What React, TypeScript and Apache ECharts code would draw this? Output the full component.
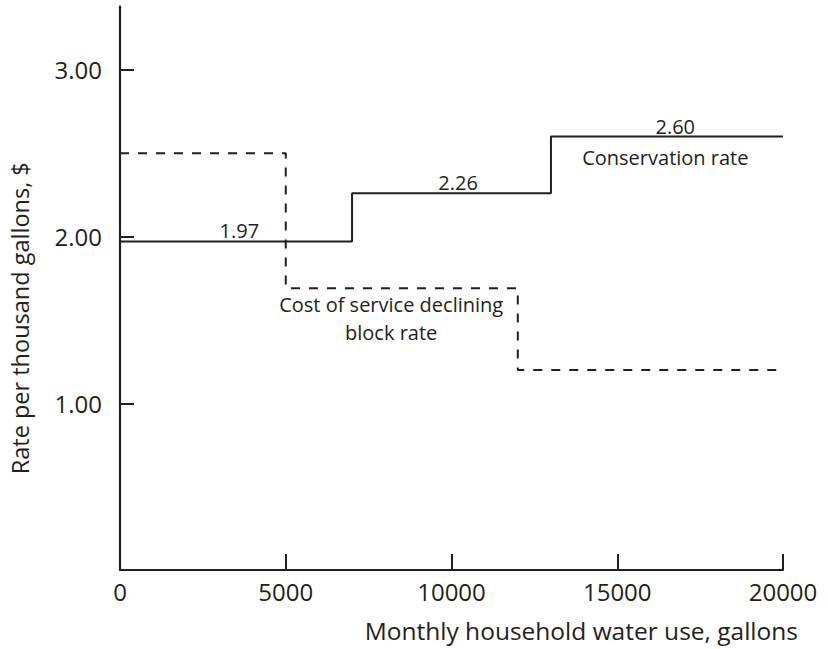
import React, { useEffect, useRef } from "react";
import * as echarts from "echarts";

// Conservation (increasing block) rate
const conservationBreaks = [0, 7000, 13000, 20000];
const conservationRates = [1.97, 2.26, 2.6];

// Cost of service declining block rate
const decliningBreaks = [0, 5000, 12000, 20000];
const decliningRates = [2.5, 1.69, 1.2];

const xTicks = [0, 5000, 10000, 15000, 20000];
const yTicks = [1, 2, 3];

// annotations (data coordinates)
const annotationTexts = ["1.97", "2.26", "2.60", "Conservation rate", "Cost of service declining\nblock rate"];
const annotationX = [3600, 10200, 16750, 16450, 8180];
const annotationY = [2.037, 2.325, 2.66, 2.475, 1.51];

const INK = "#231f20";
const FONT = "Open Sans";

function stepData(breaks: number[], rates: number[]) {
  const d: number[][] = [];
  for (let i = 0; i < rates.length; i++) d.push([breaks[i], rates[i]]);
  d.push([breaks[breaks.length - 1], rates[rates.length - 1]]);
  return d;
}

export default function App() {
  const ref = useRef<HTMLDivElement>(null);
  useEffect(() => {
    if (!ref.current) return;
    const chart = echarts.init(ref.current, null, { renderer: "svg" });
    chart.setOption({
      animation: false,
      backgroundColor: "#ffffff",
      grid: { left: 118, top: 6.5, width: 665, height: 563.5, containLabel: false },
      xAxis: {
        type: "value",
        min: 0,
        max: 20000,
        interval: 5000,
        splitLine: { show: false },
        axisLine: { show: true, onZero: false, lineStyle: { color: INK, width: 2.2 } },
        axisTick: { show: true, inside: true, length: 16, lineStyle: { color: INK, width: 2 }, customValues: [5000, 10000, 15000, 20000] },
        axisLabel: { color: INK, fontFamily: FONT, fontSize: 24, margin: 9, customValues: xTicks, formatter: (v: number) => String(v) },
        name: "Monthly household water use, gallons",
        nameLocation: "end",
        nameGap: 15,
        nameTextStyle: { color: INK, fontFamily: FONT, fontSize: 24.5, align: "right", verticalAlign: "top", padding: [48, 0, 0, 0] },
      },
      yAxis: {
        type: "value",
        min: 0,
        max: 3.38,
        interval: 1,
        splitLine: { show: false },
        axisLine: { show: true, onZero: false, lineStyle: { color: INK, width: 2.2 } },
        axisTick: { show: true, inside: true, length: 14, lineStyle: { color: INK, width: 2 }, customValues: yTicks },
        axisLabel: { color: INK, fontFamily: FONT, fontSize: 24, margin: 18, customValues: yTicks, formatter: (v: number) => v.toFixed(2) },
        name: "Rate per thousand gallons, $",
        nameLocation: "middle",
        nameGap: 88,
        nameRotate: 90,
        nameTextStyle: { color: INK, fontFamily: FONT, fontSize: 23.5, padding: [0, 60, 0, 0] },
      },
      series: [
        {
          name: "Conservation rate",
          type: "line",
          step: "end",
          data: stepData(conservationBreaks, conservationRates),
          showSymbol: false,
          lineStyle: { color: INK, width: 2 },
        },
        {
          name: "Cost of service declining block rate",
          type: "line",
          step: "end",
          data: stepData(decliningBreaks, decliningRates),
          showSymbol: false,
          lineStyle: { color: INK, width: 2, type: [9, 9] },
        },
        {
          type: "scatter",
          symbolSize: 0,
          silent: true,
          itemStyle: { opacity: 1, color: INK },
          data: annotationTexts.map((t, i) => ({ value: [annotationX[i], annotationY[i]], name: t })),
          label: {
            show: true,
            position: "inside",
            formatter: (p: any) => p.name,
            color: INK,
            textBorderWidth: 0,
            textBorderColor: "transparent",
            fontFamily: FONT,
            fontSize: 20,
            lineHeight: 28,
            align: "center",
          },
        },
      ],
    });
    return () => chart.dispose();
  }, []);
  return <div ref={ref} style={{ position: "fixed", left: 0, top: 0, width: 828, height: 649 }} />;
}
